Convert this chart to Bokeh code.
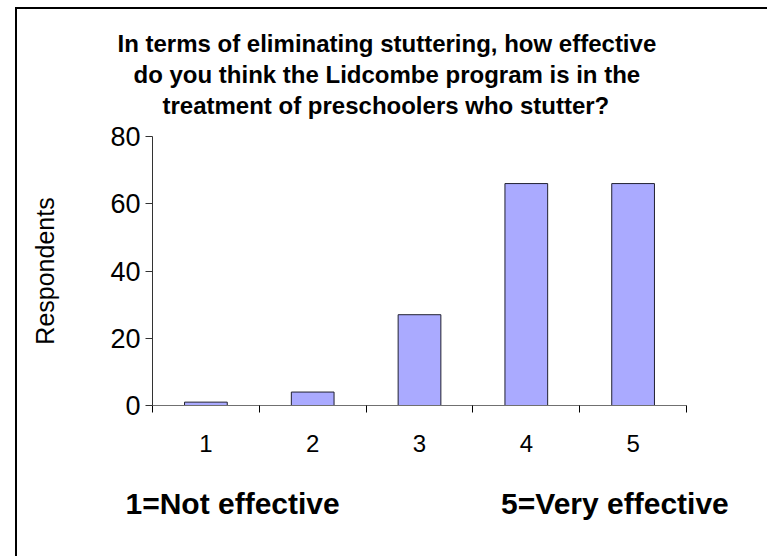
from bokeh.plotting import figure
from bokeh.models import FixedTicker, Range1d, Title, LinearAxis
from bokeh.embed import file_html
from bokeh.resources import INLINE

# Data
ratings = [1, 2, 3, 4, 5]
respondents = [1, 4, 27, 66, 66]
y_ticks = [0, 20, 40, 60, 80]
boundaries = [0.5, 1.5, 2.5, 3.5, 4.5, 5.5]
title_lines = [
    "In terms of eliminating stuttering, how effective",
    "do you think the Lidcombe program is in the",
    "treatment of preschoolers who stutter?",
]
title_offsets = [-35, -19, 10]  # left offsets that centre each line like the original
note_positions = [1.25, 4.83]
note_texts = ["1=Not effective", "5=Very effective"]

FONT = "Liberation Sans"

p = figure(
    width=752, height=549,
    x_range=Range1d(0.5, 5.5), y_range=Range1d(0, 80),
    output_backend="svg", toolbar_location=None,
    min_border_left=135, min_border_right=83,
    min_border_top=127, min_border_bottom=153,
)
p.title = None
p.outline_line_color = None
p.xgrid.visible = False
p.ygrid.visible = False
p.styles = {"margin-left": "17px", "margin-top": "9px",
            "box-shadow": "-2px -2px 0px 0px black"}

p.vbar(x=ratings, top=respondents, width=0.4,
       fill_color="#AAAAFF", line_color="#202030", line_width=1)

# y axis
ya = p.yaxis[0]
ya.ticker = FixedTicker(ticks=y_ticks)
ya.major_label_text_font = FONT
ya.major_label_text_font_size = "27px"
ya.major_label_text_color = "black"
ya.major_tick_out = 7
ya.major_tick_in = 0
ya.minor_tick_out = 0
ya.minor_tick_in = 0
ya.axis_line_color = "#333333"
ya.major_tick_line_color = "#333333"
ya.major_label_standoff = 5
ya.axis_label = "Respondents"
ya.axis_label_text_font = FONT
ya.axis_label_text_font_size = "25px"
ya.axis_label_text_font_style = "normal"
ya.axis_label_text_color = "black"
ya.axis_label_standoff = 48

# x axis
xa = p.xaxis[0]
xa.ticker = FixedTicker(ticks=ratings, minor_ticks=boundaries)
xa.major_tick_out = 0
xa.major_tick_in = 0
xa.minor_tick_out = 7
xa.minor_tick_in = 0
xa.minor_tick_line_color = "black"
xa.axis_line_color = "#707070"
xa.major_label_text_font = FONT
xa.major_label_text_font_size = "24px"
xa.major_label_text_color = "black"
xa.major_label_standoff = 22

# Notes under the axis
notes = LinearAxis(
    ticker=FixedTicker(ticks=note_positions, minor_ticks=[]),
    major_label_overrides={pos: txt for pos, txt in zip(note_positions, note_texts)},
    axis_line_color=None, major_tick_line_color=None, minor_tick_line_color=None,
    major_label_text_font=FONT, major_label_text_font_size="30px",
    major_label_text_font_style="bold", major_label_text_color="black",
    major_label_standoff=26,
)
p.add_layout(notes, "below")

# spacer between the title block and the plot area
p.add_layout(Title(text=" ", text_font=FONT, text_font_size="13.5px", standoff=0), "above")
# Title lines (bottom line first so that the first line ends on top)
for txt, off in reversed(list(zip(title_lines, title_offsets))):
    p.add_layout(Title(text=txt, align="left", offset=off, text_font=FONT,
                       text_font_size="24px", text_font_style="bold",
                       text_color="black", standoff=2), "above")

open("out.html", "w").write(file_html(p, INLINE))
